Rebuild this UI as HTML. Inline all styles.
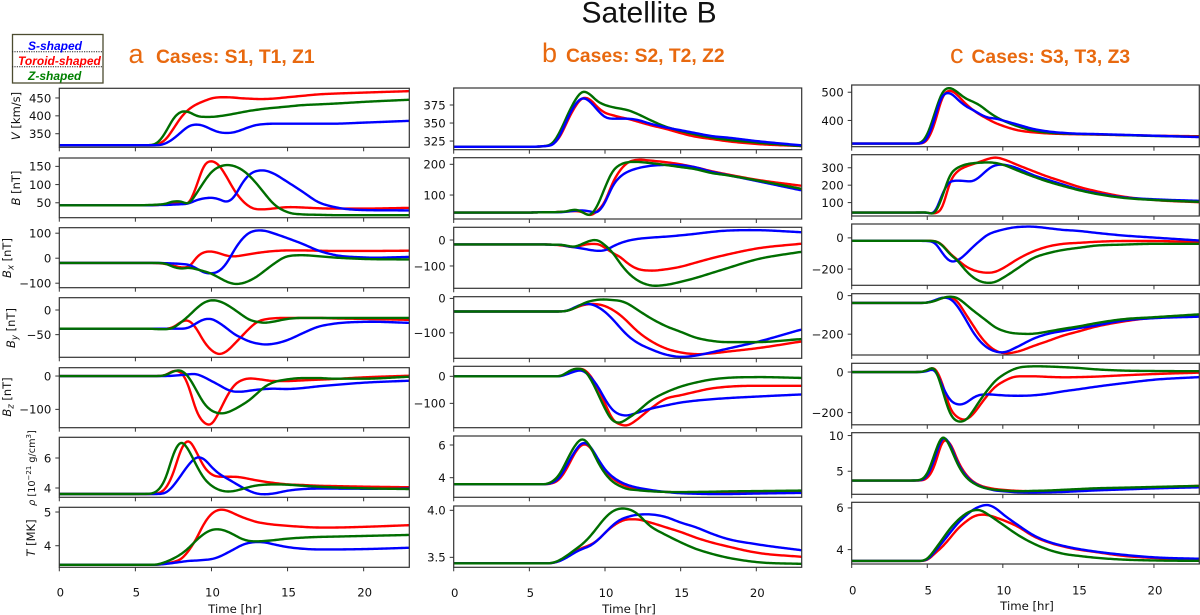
<!DOCTYPE html>
<html lang="en">
<head>
<meta charset="utf-8">
<title>Satellite B</title>
<style>
html,body{margin:0;padding:0;background:#fff;}
body{width:1200px;height:615px;overflow:hidden;}
svg{display:block;}
text{font-family:"DejaVu Sans","Liberation Sans",sans-serif;fill:#111;}
.ttl{font-family:"Liberation Sans",sans-serif;}
.case{font-family:"Liberation Sans",sans-serif;font-weight:bold;font-size:19.3px;fill:#e8690f;}
.let{font-family:"Liberation Sans",sans-serif;font-size:27px;fill:#e8690f;}
.leg{font-family:"Liberation Sans",sans-serif;font-weight:bold;font-style:italic;font-size:12px;}
.yl{font-size:11.5px;}
.tk{font-size:11.7px;}
</style>
</head>
<body>
<svg id="fig" xmlns="http://www.w3.org/2000/svg" width="1200" height="615" viewBox="0 0 1200 615">
  <rect x="0" y="0" width="1200" height="615" fill="#fff"/>
  <text class="ttl" x="581.5" y="22.7" font-size="30">Satellite B</text>

  <g>
    <rect x="12.5" y="34.5" width="90.5" height="48.5" fill="#fff" stroke="#4c4c30" stroke-width="1.3"/>
    <line x1="12" y1="51.7" x2="103" y2="51.7" stroke="#222" stroke-width="1" stroke-dasharray="1.2 1.2"/>
    <line x1="12" y1="66.7" x2="103" y2="66.7" stroke="#222" stroke-width="1" stroke-dasharray="1.2 1.2"/>
    <text class="leg" x="28" y="50" style="fill:#0000ff">S-shaped</text>
    <text class="leg" x="18" y="65" style="fill:#ff0000">Toroid-shaped</text>
    <text class="leg" x="28" y="80" style="fill:#008000">Z-shaped</text>
  </g>

  <text class="let" x="128.5" y="63">a</text>
  <text class="case" x="156" y="63">Cases: S1, T1, Z1</text>
  <text class="let" x="542" y="62">b</text>
  <text class="case" x="566" y="62">Cases: S2, T2, Z2</text>
  <text class="let" x="950" y="63">c</text>
  <text class="case" x="971.5" y="63">Cases: S3, T3, Z3</text>

  <g>
    <text class="yl" text-anchor="middle" transform="translate(20,116) rotate(-90)"><tspan font-style="italic">V</tspan> [km/s]</text>
    <text class="yl" text-anchor="middle" transform="translate(20,188) rotate(-90)"><tspan font-style="italic">B</tspan> [nT]</text>
    <text class="yl" text-anchor="middle" transform="translate(11,258) rotate(-90)"><tspan font-style="italic">B</tspan><tspan font-style="italic" font-size="8.5" dy="2.5">x</tspan><tspan dy="-2.5"> [nT]</tspan></text>
    <text class="yl" text-anchor="middle" transform="translate(15,328) rotate(-90)"><tspan font-style="italic">B</tspan><tspan font-style="italic" font-size="8.5" dy="2.5">y</tspan><tspan dy="-2.5"> [nT]</tspan></text>
    <text class="yl" text-anchor="middle" transform="translate(11,397) rotate(-90)"><tspan font-style="italic">B</tspan><tspan font-style="italic" font-size="8.5" dy="2.5">z</tspan><tspan dy="-2.5"> [nT]</tspan></text>
    <text font-size="9.7" text-anchor="middle" transform="translate(35,468) rotate(-90)"><tspan font-style="italic">ρ</tspan> [10<tspan font-size="7" dy="-4">−21</tspan><tspan dy="4"> g/cm</tspan><tspan font-size="7" dy="-4">3</tspan><tspan dy="4">]</tspan></text>
    <text class="yl" text-anchor="middle" transform="translate(35,538) rotate(-90)"><tspan font-style="italic">T</tspan> [MK]</text>
  </g>

  <text class="tk" text-anchor="middle" x="235" y="613">Time [hr]</text>
  <text class="tk" text-anchor="middle" x="629" y="613">Time [hr]</text>
  <text class="tk" text-anchor="middle" x="1027" y="610">Time [hr]</text>
  <g id="plots"></g>
</svg>
<script>
// ---- shared sample times (hours) for each column ----
const timesA = [0,5,6,6.5,7,7.5,8,8.5,9,9.5,10,10.5,11,11.5,12,12.5,13,13.5,14,15,16,17,18,20,23];
const timesB = [0,5,6,6.5,7,7.5,8,8.5,9,9.5,10,10.5,11,11.5,12,13,14,15,16,17,18,20,23];
const timesC = [0,4,4.5,5,5.5,6,6.5,7,7.5,8,8.5,9,9.5,10,11,12,13,14,15,16,18,20,23];
const xTicks = [0,5,10,15,20];

// ---- column a ----
const aVRed = [318,318,318,321,334,364,396,418,432,441,449,452,452,451,449,448,447,447,448,452,456,460,462,465,469];
const aVGreen = [318,318,318,326,355,393,412,411,400,397,397,399,402,406,410,414,417,420,422,426,430,432,434,439,445];
const aVBlue = [318,318,318,318,323,336,354,371,376,372,362,354,352,354,361,369,375,377,378,378,378,378,378,381,386];
const aBRed = [43,43,43,44,46,49,50,47,94,153,165,153,121,84,57,39,32,32,34,38,37,35,34,34,36];
const aBGreen = [43,43,44,45,47,54,54,47,75,107,135,149,154,151,141,124,101,75,50,24,18,17,16,16,16];
const aBBlue = [43,43,43,44,44,45,46,48,57,62,64,60,52,66,103,128,138,139,132,107,80,52,39,30,29];
const aBxRed = [-19,-19,-19,-20,-23,-30,-37,-36,3,24,27,20,10,7,11,16,21,25,28,31,31,30,29,29,30];
const aBxGreen = [-19,-19,-19,-19,-22,-35,-42,-38,-44,-52,-62,-78,-94,-103,-101,-90,-73,-50,-27,8,12,8,3,-3,-5];
const aBxBlue = [-19,-19,-19,-19,-20,-21,-23,-26,-40,-57,-61,-52,-20,33,76,103,111,110,101,80,57,31,14,3,5];
const aByRed = [-38,-38,-38,-38,-38,-35,-24,-21,-37,-64,-82,-90,-84,-69,-53,-37,-24,-19,-17,-16,-16,-16,-17,-18,-20];
const aByGreen = [-38,-38,-38,-39,-39,-36,-25,-12,3,15,20,18,11,1,-10,-20,-24,-26,-24,-18,-16,-16,-16,-16,-16];
const aByBlue = [-38,-38,-38,-38,-38,-38,-38,-36,-27,-19,-18,-26,-37,-49,-57,-64,-68,-70,-69,-61,-47,-34,-28,-24,-26];
const aBzRed = [0,0,0,0,3,16,12,-30,-105,-140,-146,-108,-62,-27,-12,-7,-9,-12,-15,-15,-13,-11,-9,-4,1];
const aBzGreen = [0,0,0,0,3,14,17,-3,-42,-82,-104,-112,-110,-100,-87,-72,-52,-32,-20,-10,-6,-6,-8,-8,-2];
const aBzBlue = [0,0,0,0,0,1,3,5,6,-3,-15,-27,-40,-47,-47,-44,-41,-39,-38,-39,-36,-31,-27,-20,-14];
const aRhoRed = [3.6,3.6,3.6,3.64,3.98,5.0,6.6,7.2,6.42,5.42,4.9,4.75,4.75,4.75,4.7,4.6,4.5,4.42,4.35,4.24,4.2,4.15,4.13,4.09,4.05];
const aRhoGreen = [3.6,3.6,3.62,3.85,4.65,6.3,7.1,6.53,5.53,4.65,4.15,3.87,3.76,3.8,3.93,4.07,4.18,4.22,4.24,4.22,4.15,4.09,4.04,3.98,3.93];
const aRhoBlue = [3.6,3.6,3.6,3.6,3.68,4.15,4.85,5.55,6.05,5.95,5.4,4.95,4.65,4.35,4.05,3.8,3.62,3.58,3.62,3.82,3.93,3.96,3.96,3.95,3.96];
const aTRed = [3.435,3.435,3.435,3.44,3.47,3.52,3.6,3.85,4.2,4.65,4.95,5.07,5.05,4.95,4.85,4.77,4.7,4.66,4.63,4.59,4.56,4.54,4.54,4.56,4.61];
const aTGreen = [3.435,3.435,3.435,3.45,3.52,3.62,3.75,3.93,4.16,4.35,4.47,4.49,4.43,4.32,4.2,4.14,4.13,4.14,4.16,4.21,4.24,4.26,4.27,4.29,4.32];
const aTBlue = [3.435,3.435,3.435,3.44,3.46,3.49,3.52,3.55,3.56,3.58,3.6,3.67,3.78,3.9,4.02,4.09,4.11,4.1,4.05,3.96,3.91,3.89,3.89,3.9,3.94];

// ---- column b ----
const bVRed = [317,317,318,320,330,352,372,385,383,372,364,361,358,356,353,347,342,336,331,328,325,321,318];
const bVGreen = [317,317,318,321,337,360,381,394,390,380,375,372,370,368,364,354,345,339,334,330,327,323,318];
const bVBlue = [317,317,318,319,332,355,375,385,380,368,358,356,356,356,355,349,344,340,336,332,330,325,319];
const bBRed = [43,43,44,44,45,46,48,45,33,48,78,140,181,206,214,212,207,200,190,178,168,150,130];
const bBGreen = [43,43,44,44,45,47,53,45,33,65,125,178,199,207,208,204,198,191,184,172,165,148,120];
const bBBlue = [43,43,44,44,44,46,49,50,47,43,75,130,160,176,185,195,198,197,190,176,166,146,115];
const bBxRed = [-17,-17,-17,-18,-20,-24,-28,-20,-15,-15,-30,-50,-65,-90,-108,-118,-113,-103,-87,-71,-57,-33,-14];
const bBxGreen = [-17,-17,-17,-18,-18,-22,-26,-15,-3,0,-20,-48,-90,-125,-150,-175,-173,-161,-146,-128,-110,-75,-45];
const bBxBlue = [-17,-17,-17,-18,-18,-24,-28,-33,-38,-42,-40,-25,-12,-3,3,9,13,18,24,31,36,38,30];
const bByRed = [-38,-38,-38,-38,-38,-36,-28,-20,-16,-17,-22,-33,-48,-68,-90,-123,-145,-157,-162,-160,-155,-145,-125];
const bByGreen = [-38,-38,-38,-38,-38,-36,-28,-16,-8,-4,-3,-5,-7,-15,-29,-57,-80,-97,-114,-123,-127,-127,-118];
const bByBlue = [-38,-38,-38,-38,-38,-36,-26,-17,-16,-24,-39,-60,-85,-108,-125,-147,-163,-170,-166,-157,-147,-127,-90];
const bBzRed = [0,0,0,0,0,12,28,28,5,-40,-100,-160,-178,-182,-165,-120,-83,-70,-57,-45,-39,-35,-35];
const bBzGreen = [0,0,0,0,0,15,28,27,-5,-60,-120,-165,-172,-156,-137,-90,-60,-38,-23,-12,-6,-3,-6];
const bBzBlue = [0,0,0,0,0,8,18,22,0,-35,-85,-125,-142,-145,-137,-120,-108,-97,-90,-85,-81,-75,-67];
const bRhoRed = [3.6,3.6,3.6,3.65,3.9,4.6,5.5,6.05,5.9,5.1,4.4,3.95,3.65,3.45,3.35,3.2,3.13,3.1,3.1,3.11,3.12,3.13,3.15];
const bRhoGreen = [3.6,3.6,3.6,3.75,4.2,5.1,5.95,6.4,5.95,5.0,4.25,3.75,3.48,3.3,3.25,3.17,3.13,3.12,3.13,3.14,3.16,3.18,3.21];
const bRhoBlue = [3.6,3.6,3.6,3.68,4.0,4.8,5.6,6.15,5.95,5.2,4.5,4.05,3.75,3.55,3.42,3.25,3.13,3.05,3.02,3.0,3.0,3.03,3.07];
const bTRed = [3.436,3.436,3.436,3.44,3.46,3.51,3.56,3.6,3.63,3.68,3.76,3.83,3.88,3.905,3.905,3.87,3.82,3.77,3.71,3.66,3.62,3.55,3.505];
const bTGreen = [3.436,3.436,3.436,3.44,3.47,3.52,3.58,3.64,3.72,3.82,3.92,3.99,4.02,4.015,3.98,3.83,3.74,3.66,3.59,3.54,3.5,3.45,3.43];
const bTBlue = [3.436,3.436,3.436,3.44,3.46,3.5,3.55,3.59,3.62,3.68,3.76,3.84,3.9,3.93,3.95,3.957,3.93,3.87,3.82,3.755,3.7,3.64,3.575];

// ---- column c ----
const cVRed = [318,318,318,329,390,485,507,490,461,438,420,405,391,381,365,358,354,352,351,350,348,346,344];
const cVGreen = [318,318,319,349,426,502,516,500,479,467,453,432,414,400,379,364,357,354,352,351,348,345,342];
const cVBlue = [318,318,318,335,408,490,498,475,452,438,422,410,407,400,385,370,361,356,353,352,349,346,341];
const cBRed = [43,43,43,42,38,68,220,280,305,320,335,350,360,350,315,281,248,220,191,169,134,115,102];
const cBGreen = [43,43,43,44,38,135,260,300,318,326,329,331,328,318,283,250,220,195,172,153,127,115,104];
const cBBlue = [43,43,43,43,42,150,222,226,224,222,250,290,315,318,296,258,230,203,176,157,130,119,110];
const cBxRed = [-19,-19,-19,-19,-20,-45,-100,-140,-180,-205,-219,-224,-218,-195,-135,-87,-55,-38,-32,-26,-20,-20,-28];
const cBxGreen = [-19,-19,-19,-19,-20,-48,-105,-145,-205,-251,-279,-289,-283,-257,-194,-130,-98,-77,-64,-51,-43,-38,-38];
const cBxBlue = [-19,-19,-19,-20,-30,-98,-151,-145,-108,-60,-17,21,40,53,70,72,62,51,45,34,15,2,-17];
const cByRed = [-38,-38,-38,-36,-27,-12,-8,-30,-91,-150,-210,-255,-285,-298,-290,-262,-235,-207,-186,-164,-134,-114,-102];
const cByGreen = [-38,-38,-38,-36,-28,-12,-5,-12,-42,-75,-105,-135,-165,-182,-197,-198,-186,-172,-160,-145,-122,-112,-97];
const cByBlue = [-38,-38,-38,-36,-24,-10,-15,-55,-117,-186,-238,-272,-290,-295,-264,-224,-198,-183,-169,-157,-129,-117,-109];
const cBzRed = [0,0,0,8,21,-56,-179,-223,-236,-211,-162,-113,-72,-48,-21,-21,-24,-26,-25,-23,-16,-10,-3];
const cBzGreen = [0,0,0,8,20,-88,-206,-244,-240,-195,-138,-88,-43,-15,21,28,27,24,20,14,7,5,4];
const cBzBlue = [0,0,0,4,12,-70,-138,-160,-155,-128,-112,-110,-112,-115,-117,-115,-107,-95,-85,-74,-55,-38,-25];
const cRhoRed = [3.7,3.7,3.7,4.0,5.8,9.3,9.0,6.5,4.7,3.6,3.0,2.7,2.5,2.4,2.25,2.2,2.25,2.3,2.4,2.45,2.6,2.75,2.95];
const cRhoGreen = [3.7,3.7,3.75,4.6,7.5,10.0,8.5,6.0,4.3,3.4,2.85,2.55,2.4,2.3,2.2,2.25,2.3,2.4,2.5,2.6,2.7,2.8,2.95];
const cRhoBlue = [3.7,3.7,3.72,4.3,6.8,9.8,8.8,6.2,4.5,3.5,2.9,2.55,2.3,2.2,2.05,2.0,2.05,2.1,2.2,2.3,2.45,2.6,2.75];
const cTRed = [3.456,3.456,3.456,3.5,3.82,4.14,4.55,4.99,5.31,5.57,5.68,5.66,5.55,5.42,5.1,4.65,4.35,4.15,4.0,3.9,3.7,3.6,3.53];
const cTGreen = [3.456,3.456,3.456,3.55,4.0,4.5,5.0,5.4,5.7,5.88,5.9,5.7,5.45,5.2,4.7,4.3,4.0,3.8,3.7,3.62,3.52,3.48,3.46];
const cTBlue = [3.456,3.456,3.456,3.52,3.9,4.35,4.8,5.25,5.6,5.9,6.08,6.15,6.0,5.7,5.18,4.7,4.38,4.18,4.03,3.92,3.75,3.63,3.56];

// ---- y tick labels ----
const aTicks = [["350","400","450"],["50","100","150"],["-100","0","100"],["-50","0"],["-100","0"],["4","6"],["4","5"]];
const bTicks = [["325","350","375"],["100","200"],["-100","0"],["-100","0"],["-100","0"],["4","6"],["3.5","4.0"]];
const cTicks = [["400","500"],["100","200","300"],["-200","0"],["-200","0"],["-200","0"],["5","10"],["4","6"]];

// ---- y-axis limits for each panel ----
const aLimits = [[312,477],[9,173],[-118,122],[-96,25],[-155,25],[3.38,7.38],[3.36,5.14]];
const bLimits = [[313,398.6],[22,221.5],[-186,49],[-174,5],[-190,37],[2.8,6.55],[3.394,4.046]];
const cLimits = [[307,525.6],[23,375],[-304,89],[-308,10],[-260,43],[1.77,10.4],[3.31,6.27]];

const quantities = ["velocity","b","bx","by","bz","density","temperature"];
const colors = {red:"#ff0000",green:"#006e00",blue:"#0000ff"};

const columns = [
  {id:"a",times:timesA,ticks:aTicks,limits:aLimits,x0:59.3,x1:409.3,labelY:592,
   tops:[88.3,158,227.7,297.7,367.7,437.3,507.3],bottoms:[147.3,217.7,287.7,357.3,427.7,497.3,567.3],
   series:[[aVRed,aVGreen,aVBlue],[aBRed,aBGreen,aBBlue],[aBxRed,aBxGreen,aBxBlue],[aByRed,aByGreen,aByBlue],[aBzRed,aBzGreen,aBzBlue],[aRhoRed,aRhoGreen,aRhoBlue],[aTRed,aTGreen,aTBlue]]},
  {id:"b",times:timesB,ticks:bTicks,limits:bLimits,x0:453.7,x1:801.7,labelY:592.7,
   tops:[88,157.7,227.3,296.7,366.3,436,506],bottoms:[149.7,219,288.3,358.3,427.7,497.3,567.3],
   series:[[bVRed,bVGreen,bVBlue],[bBRed,bBGreen,bBBlue],[bBxRed,bBxGreen,bBxBlue],[bByRed,bByGreen,bByBlue],[bBzRed,bBzGreen,bBzBlue],[bRhoRed,bRhoGreen,bRhoBlue],[bTRed,bTGreen,bTBlue]]},
  {id:"c",times:timesC,ticks:cTicks,limits:cLimits,x0:851.7,x1:1199.3,labelY:590,
   tops:[85,154.7,224,293.7,363.3,432.7,502.3],bottoms:[146.7,216,285.3,355,424.8,494.3,564],
   series:[[cVRed,cVGreen,cVBlue],[cBRed,cBGreen,cBBlue],[cBxRed,cBxGreen,cBxBlue],[cByRed,cByGreen,cByBlue],[cBzRed,cBzGreen,cBzBlue],[cRhoRed,cRhoGreen,cRhoBlue],[cTRed,cTGreen,cTBlue]]}
];

const NS = "http://www.w3.org/2000/svg";
const plots = document.getElementById("plots");
const STEP = 0.05, SIGMA = 0.17;
const KERNEL = (function(){
  const r = Math.ceil(3*SIGMA/STEP), k = [];
  let sum = 0;
  for(let i=-r;i<=r;i++){ const w = Math.exp(-0.5*Math.pow(i*STEP/SIGMA,2)); k.push(w); sum += w; }
  return k.map(function(w){ return w/sum; });
})();

function make(tag, parent, attrs){
  const el = document.createElementNS(NS, tag);
  for(const k in attrs){ el.setAttribute(k, attrs[k]); }
  parent.appendChild(el);
  return el;
}

// Evaluate a Hermite interpolant through the samples, then lightly low-pass it.
function denseCurve(ts, vs){
  const n = ts.length, h = [], m = [], d = new Array(n).fill(0);
  for(let i=0;i<n-1;i++){ h[i]=ts[i+1]-ts[i]; m[i]=(vs[i+1]-vs[i])/h[i]; }
  d[0]=0; d[n-1]=m[n-2];
  for(let i=1;i<n-1;i++){
    if(m[i-1]===0 || m[i]===0){ d[i]=0; continue; }
    let s=(h[i]*m[i-1]+h[i-1]*m[i])/(h[i]+h[i-1]);
    if(m[i-1]*m[i]>0){
      const lim=3*Math.min(Math.abs(m[i-1]),Math.abs(m[i]));
      if(Math.abs(s)>lim){ s=Math.sign(s)*lim; }
    }
    d[i]=s;
  }
  const count = Math.round(23/STEP)+1, raw = [];
  let seg = 0;
  for(let j=0;j<count;j++){
    const t = j*STEP;
    while(seg<n-2 && t>ts[seg+1]){ seg++; }
    const u=(t-ts[seg])/h[seg], u2=u*u, u3=u2*u;
    raw.push((2*u3-3*u2+1)*vs[seg]+(u3-2*u2+u)*h[seg]*d[seg]+(-2*u3+3*u2)*vs[seg+1]+(u3-u2)*h[seg]*d[seg+1]);
  }
  const r = (KERNEL.length-1)/2, out = [];
  for(let j=0;j<count;j++){
    let acc = 0;
    for(let k=-r;k<=r;k++){ acc += KERNEL[k+r]*raw[Math.min(count-1,Math.max(0,j+k))]; }
    out.push(acc);
  }
  return out;
}

columns.forEach(function(col){
  const xScale = function(t){ return col.x0 + t/23*(col.x1-col.x0); };
  col.series.forEach(function(group, r){
    const top = col.tops[r], bottom = col.bottoms[r], lim = col.limits[r];
    const yScale = function(v){ return bottom - (v-lim[0])/(lim[1]-lim[0])*(bottom-top); };
    const panel = make("g", plots, {});
    
    

    const clipId = "clip-"+col.id+"-"+r;
    const clip = make("clipPath", panel, {id:clipId});
    make("rect", clip, {x:col.x0,y:top-1,width:col.x1-col.x0,height:bottom-top+2});

    // draw order: red first, then green/blue (blue on top only in the speed panel)
    const names = ["red","green","blue"];
    const order = r===0 ? [0,1,2] : [0,2,1];
    order.forEach(function(idx){
      const curve = denseCurve(col.times, group[idx]);
      let d = "";
      curve.forEach(function(v, j){
        if(j%2===0 || j===curve.length-1){
          d += (d ? "L" : "M") + xScale(j*STEP).toFixed(2) + " " + yScale(v).toFixed(2);
        }
      });
      const line = make("path", panel, {d:d,fill:"none",stroke:colors[names[idx]],"stroke-width":2.4,"stroke-linejoin":"round","clip-path":"url(#"+clipId+")"});
      
      
    });

    const frame = make("rect", panel, {x:col.x0,y:top,width:col.x1-col.x0,height:bottom-top,fill:"none",stroke:"#333","stroke-width":1.2});
    
    

    xTicks.forEach(function(t){
      const tick = make("line", panel, {x1:xScale(t),x2:xScale(t),y1:bottom,y2:bottom+4,stroke:"#333","stroke-width":1});
      
      
      if(r===6){
        const lab = make("text", panel, {class:"tk",x:xScale(t)+1,y:col.labelY+4.3,"text-anchor":"middle"});
        lab.textContent = String(t);
        
        
      }
    });

    col.ticks[r].forEach(function(label){
      const y = yScale(parseFloat(label));
      const tick = make("line", panel, {x1:col.x0-4,x2:col.x0,y1:y,y2:y,stroke:"#333","stroke-width":1});
      
      
      const lab = make("text", panel, {class:"tk",x:col.x0-8,y:y+4.3,"text-anchor":"end"});
      lab.textContent = label.replace("-", "\u2212");
      
      
    });
  });
});
</script>
</body>
</html>
